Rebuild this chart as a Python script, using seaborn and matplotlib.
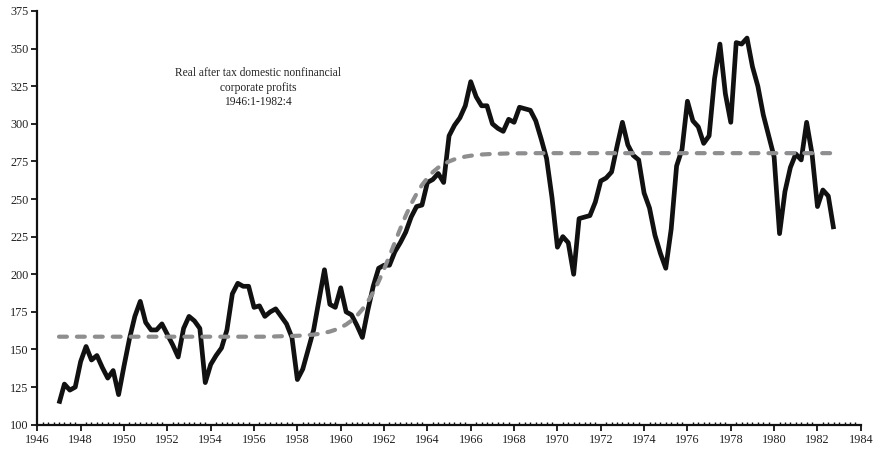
import numpy as np
import pandas as pd
import seaborn as sns
import matplotlib.pyplot as plt
from matplotlib.ticker import MultipleLocator

# quarterly series 1947Q1 .. 1982Q4
profits = [
    114, 127, 123, 125,   # 1947
    142, 152, 143, 146,   # 1948
    138, 131, 136, 120,   # 1949
    139, 157, 172, 182,   # 1950
    168, 163, 163, 167,   # 1951
    160, 153, 145, 164,   # 1952
    172, 169, 164, 128,   # 1953
    140, 146, 151, 163,   # 1954
    187, 194, 192, 192,   # 1955
    178, 179, 172, 175,   # 1956
    177, 172, 167, 158,   # 1957
    130, 137, 150, 163,   # 1958
    183, 203, 180, 178,   # 1959
    191, 175, 173, 166,   # 1960
    158, 176, 192, 204,   # 1961
    206, 206, 215, 221,   # 1962
    228, 238, 245, 246,   # 1963
    261, 263, 267, 261,   # 1964
    292, 299, 304, 312,   # 1965
    328, 318, 312, 312,   # 1966
    300, 297, 295, 303,   # 1967
    301, 311, 310, 309,   # 1968
    302, 290, 277, 251,   # 1969
    218, 225, 221, 200,   # 1970
    237, 238, 239, 248,   # 1971
    262, 264, 268, 285,   # 1972
    301, 286, 279, 276,   # 1973
    254, 244, 226, 214,   # 1974
    204, 230, 272, 283,   # 1975
    315, 302, 298, 287,   # 1976
    292, 330, 353, 320,   # 1977
    301, 354, 353, 357,   # 1978
    338, 325, 306, 292,   # 1979
    278, 227, 255, 271,   # 1980
    280, 276, 301, 280,   # 1981
    245, 256, 252, 230,   # 1982
]

trend = [
    158.5, 158.5, 158.5, 158.5,   # 1947
    158.5, 158.5, 158.5, 158.5,   # 1948
    158.5, 158.5, 158.5, 158.5,   # 1949
    158.5, 158.5, 158.5, 158.5,   # 1950
    158.5, 158.5, 158.5, 158.5,   # 1951
    158.5, 158.5, 158.5, 158.5,   # 1952
    158.5, 158.5, 158.5, 158.5,   # 1953
    158.5, 158.5, 158.5, 158.5,   # 1954
    158.5, 158.5, 158.5, 158.5,   # 1955
    158.5, 158.5, 158.5, 158.5,   # 1956
    158.7, 158.8, 158.9, 159.0,   # 1957
    159.1, 159.3, 159.6, 159.9,   # 1958
    160.4, 161.1, 161.9, 163.1,   # 1959
    164.6, 166.6, 169.2, 172.5,   # 1960
    176.7, 181.9, 188.0, 195.2,   # 1961
    203.4, 212.2, 221.3, 230.3,   # 1962
    238.9, 246.7, 253.5, 259.3,   # 1963
    264.0, 267.9, 270.9, 273.2,   # 1964
    275.0, 276.4, 277.4, 278.2,   # 1965
    278.8, 279.2, 279.6, 279.8,   # 1966
    280.0, 280.1, 280.2, 280.3,   # 1967
    280.3, 280.4, 280.4, 280.4,   # 1968
    280.5, 280.5, 280.5, 280.5,   # 1969
    280.5, 280.5, 280.5, 280.5,   # 1970
    280.5, 280.5, 280.5, 280.5,   # 1971
    280.5, 280.5, 280.5, 280.5,   # 1972
    280.5, 280.5, 280.5, 280.5,   # 1973
    280.5, 280.5, 280.5, 280.5,   # 1974
    280.5, 280.5, 280.5, 280.5,   # 1975
    280.5, 280.5, 280.5, 280.5,   # 1976
    280.5, 280.5, 280.5, 280.5,   # 1977
    280.5, 280.5, 280.5, 280.5,   # 1978
    280.5, 280.5, 280.5, 280.5,   # 1979
    280.5, 280.5, 280.5, 280.5,   # 1980
    280.5, 280.5, 280.5, 280.5,   # 1981
    280.5, 280.5, 280.5, 280.5,   # 1982
]

title_lines = ["Real after tax domestic nonfinancial", "corporate profits", "1946:1-1982:4"]

quarters = pd.period_range("1947Q1", "1982Q4", freq="Q")
df = pd.DataFrame({
    "t": quarters.year + (quarters.quarter - 1) / 4,
    "profits": profits,
    "trend": trend,
})

sns.set_theme(style="white")
plt.rcParams["font.family"] = ["Liberation Serif", "DejaVu Serif"]

fig = plt.figure(figsize=(8.74, 4.5), dpi=100)
ax = fig.add_axes([0.0427, 0.0562, 0.9422, 0.9194])

sns.lineplot(data=df, x="t", y="profits", ax=ax, color="#111111", linewidth=3.4)
sns.lineplot(data=df, x="t", y="trend", ax=ax, color="#8e8e91", linewidth=3.0)
solid = ax.lines[0]
solid.set_solid_joinstyle("round")
solid.set_solid_capstyle("butt")
dash = ax.lines[-1]
dash.set_dashes((1.9, 2.4))
dash.set_dash_capstyle("round")

ax.set_xlim(1946, 1984)
ax.set_ylim(100, 375)
ax.xaxis.set_major_locator(MultipleLocator(2))
ax.xaxis.set_minor_locator(MultipleLocator(0.25))
ax.yaxis.set_major_locator(MultipleLocator(25))
ax.set_xlabel("")
ax.set_ylabel("")

for side in ["top", "right"]:
    ax.spines[side].set_visible(False)
for side in ["left", "bottom"]:
    ax.spines[side].set_linewidth(1.6)
    ax.spines[side].set_color("#111111")

ax.tick_params(axis="both", which="major", direction="out", length=4, width=1.3,
               color="#111111", labelsize=8.8, labelcolor="#222222", pad=2.5)
ax.tick_params(axis="x", which="minor", direction="in", length=2.5, width=1.0,
               color="#111111", bottom=True)
ax.tick_params(axis="x", which="major", bottom=True)
ax.tick_params(axis="y", which="major", left=True)

ax.text(1956.2, 324, "\n".join(title_lines), ha="center", va="center",
        fontsize=8.3, color="#222222", linespacing=1.3)

fig.savefig("out.png", dpi=100)
